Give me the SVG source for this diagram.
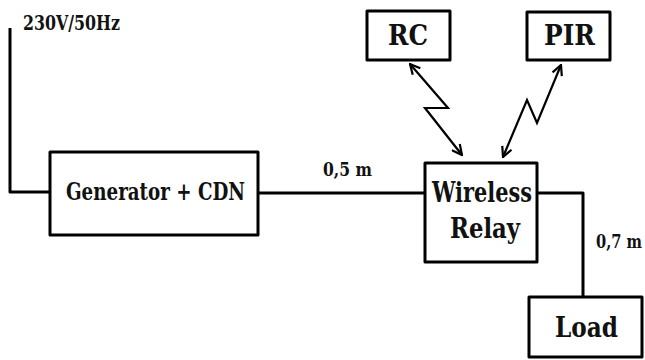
<svg xmlns="http://www.w3.org/2000/svg" width="645" height="360" viewBox="0 0 645 360">
<defs>
<style>
.box{fill:#fff;stroke:#000;stroke-width:3;stroke-linejoin:round}
.wire{fill:none;stroke:#000;stroke-width:3;stroke-linejoin:round}
.zig{fill:none;stroke:#000;stroke-width:2.2;stroke-linejoin:miter}
.t{font-family:"DejaVu Serif","Liberation Serif","Times New Roman",serif;font-weight:bold;fill:#111}
</style>
<marker id="ah" viewBox="0 0 12 12" refX="11" refY="6" markerWidth="12" markerHeight="12" markerUnits="userSpaceOnUse" orient="auto-start-reverse">
<path d="M1,1 L11,6 L1,11" fill="none" stroke="#000" stroke-width="2.2"/>
</marker>
</defs>
<rect width="645" height="360" fill="#fff"/>
<g id="connectors">
<path class="wire" d="M10,28 V192 H50"/>
<path class="wire" d="M258,193 H425"/>
<path class="wire" d="M537,193 H583 V297"/>
<path class="zig" d="M410,64 L448,108 L425,108 L462,155" marker-start="url(#ah)" marker-end="url(#ah)"/>
<path class="zig" d="M561,65 L537,123 L527,100 L503,157" marker-start="url(#ah)" marker-end="url(#ah)"/>
</g>
<g id="label-supply">
<text class="t" x="23" y="30" font-size="21" textLength="97" lengthAdjust="spacingAndGlyphs">230V/50Hz</text>
</g>
<g id="label-05">
<text class="t" x="323" y="176" font-size="19" textLength="49" lengthAdjust="spacingAndGlyphs">0,5 m</text>
</g>
<g id="label-07">
<text class="t" transform="translate(596,248) scale(0.78,1)" x="0" y="0" font-size="18" textLength="59" lengthAdjust="spacingAndGlyphs">0,7 m</text>
</g>
<g id="node-rc">
<rect class="box" x="367" y="11" width="83" height="49"/>
<text class="t" x="388" y="45" font-size="27" textLength="40" lengthAdjust="spacingAndGlyphs">RC</text>
</g>
<g id="node-pir">
<rect class="box" x="527" y="12" width="83" height="48"/>
<text class="t" x="544" y="45" font-size="27" textLength="51" lengthAdjust="spacingAndGlyphs">PIR</text>
</g>
<g id="node-generator">
<rect class="box" x="50" y="152" width="208" height="83"/>
<text class="t" x="66" y="200" font-size="25" textLength="179" lengthAdjust="spacingAndGlyphs">Generator + CDN</text>
</g>
<g id="node-relay">
<rect class="box" x="425" y="163" width="112" height="99"/>
<text class="t" x="432" y="202" font-size="28" textLength="100" lengthAdjust="spacingAndGlyphs">Wireless</text>
<text class="t" x="450" y="238" font-size="28" textLength="70" lengthAdjust="spacingAndGlyphs">Relay</text>
</g>
<g id="node-load">
<rect class="box" x="529" y="297" width="113" height="60"/>
<text class="t" x="555" y="337" font-size="27" textLength="63" lengthAdjust="spacingAndGlyphs">Load</text>
</g>
</svg>
